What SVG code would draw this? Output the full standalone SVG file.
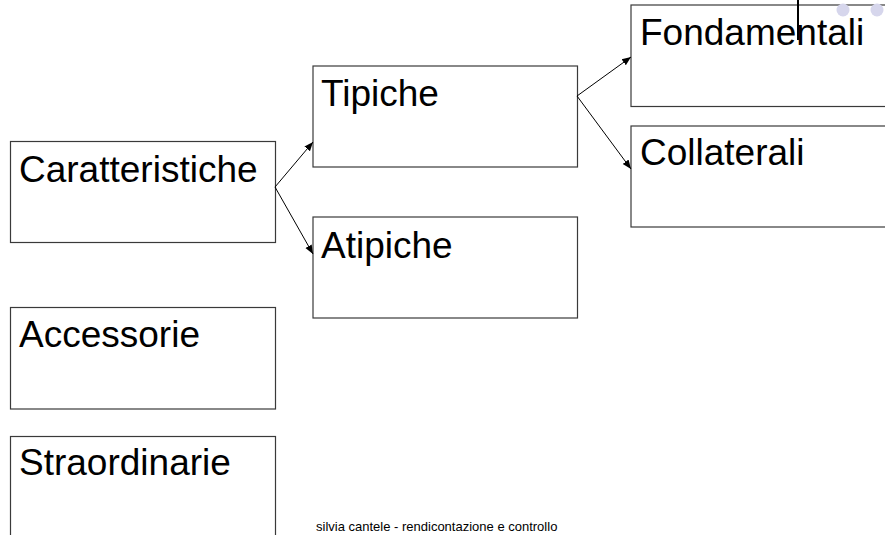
<svg xmlns="http://www.w3.org/2000/svg" width="885" height="535" viewBox="0 0 885 535">
<style>
.box{fill:#fff;stroke:#3a3a3a;stroke-width:1.2}
.lbl{font-family:"Liberation Sans",Arial,sans-serif;font-size:37px;fill:#000}
.conn{stroke:#000;stroke-width:1;fill:none;marker-end:url(#ah)}
.foot{font-family:"Liberation Sans",Arial,sans-serif;font-size:13px;fill:#000}
.dot{fill:#d6d6ec}
</style>
<defs>
<marker id="ah" viewBox="0 0 10 10" refX="10" refY="5" markerWidth="9" markerHeight="9" markerUnits="userSpaceOnUse" orient="auto">
<path d="M0,1 L10,5 L0,9 Z" fill="#000"/>
</marker>
</defs>
<rect width="885" height="535" fill="#fff"/>
<g id="n-caratteristiche"><rect class="box" x="10.5" y="141.5" width="265" height="101"/><text class="lbl" x="19" y="182">Caratteristiche</text></g>
<g id="n-tipiche"><rect class="box" x="313" y="66" width="264.5" height="101"/><text class="lbl" x="321" y="106">Tipiche</text></g>
<g id="n-atipiche"><rect class="box" x="313" y="217" width="264.5" height="101"/><text class="lbl" x="321" y="258">Atipiche</text></g>
<g id="n-fondamentali"><rect class="box" x="631" y="5" width="270" height="101.5"/><text class="lbl" x="640" y="45">Fondamentali</text></g>
<g id="n-collaterali"><rect class="box" x="631" y="126" width="270" height="101"/><text class="lbl" x="640" y="165">Collaterali</text></g>
<g id="n-accessorie"><rect class="box" x="10.5" y="307.5" width="265" height="101.5"/><text class="lbl" x="19" y="347">Accessorie</text></g>
<g id="n-straordinarie"><rect class="box" x="10.5" y="436.5" width="265" height="120"/><text class="lbl" x="19" y="475">Straordinarie</text></g>
<g id="connectors">
<line class="conn" x1="275" y1="187" x2="313" y2="142"/>
<line class="conn" x1="275" y1="187" x2="313" y2="254"/>
<line class="conn" x1="577" y1="96" x2="631" y2="57"/>
<line class="conn" x1="577" y1="96" x2="631" y2="169"/>
</g>
<circle class="dot" cx="843" cy="10" r="6.5"/>
<circle class="dot" cx="877" cy="10" r="6.5"/>
<line x1="798" y1="0" x2="798" y2="40" stroke="#000" stroke-width="2"/>
<text class="foot" x="316" y="531">silvia cantele - rendicontazione e controllo</text>
</svg>
